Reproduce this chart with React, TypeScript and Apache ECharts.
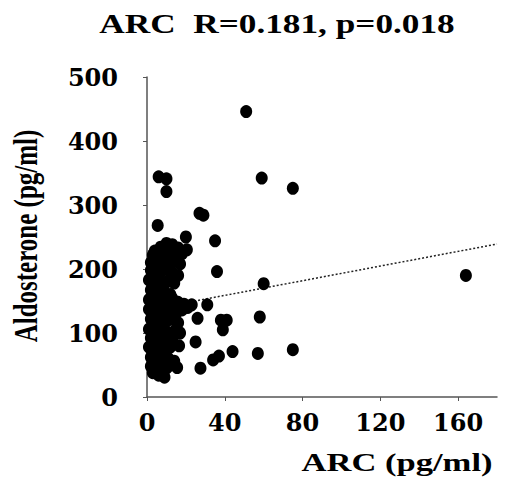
import React, { useEffect, useRef } from "react";
import * as echarts from "echarts";

const titleText = "ARC  R=0.181, p=0.018";
const xName = "ARC (pg/ml)";
const yName = "Aldosterone (pg/ml)";
const xTicks = [0, 40, 80, 120, 160];
const yTicks = [0, 100, 200, 300, 400, 500];

// isolated points [ARC, Aldosterone]
const outerPoints: number[][] = [
  [51, 446], [59, 342], [75, 326], [6, 344], [10, 341], [10, 321],
  [27, 287], [29, 284], [5.5, 268], [20, 250], [35, 244], [20.5, 230],
  [36, 196], [60, 177], [31, 144], [23, 144], [26, 123], [38, 120], [41, 120],
  [58, 125], [39, 105], [25, 86], [75, 74], [44, 71], [57, 68], [37, 64],
  [34, 58], [27.5, 45], [15.5, 46], [16.5, 80], [164, 190],
];

// dense cluster near the y axis
const clusterPoints: number[][] = [
  [7, 234], [10, 240], [13, 238], [16, 233], [4, 228],
  [3, 222], [6, 225], [9, 228], [12, 222], [14, 226], [18, 224],
  [2, 210], [5, 209], [8, 214], [11, 206], [15, 212], [17, 208],
  [2, 198], [4, 192], [7, 196], [10, 200], [13, 194], [16, 190],
  [1, 183], [3, 178], [6, 184], [9, 176], [11, 182], [14, 178],
  [2, 167], [4, 162], [7, 170], [9, 164], [12, 160],
  [1, 152], [3, 148], [5, 155], [8, 150], [11, 146], [13, 154], [16, 148], [19, 145],
  [1, 137], [3, 132], [6, 140], [9, 134], [12, 138], [15, 131], [18, 136], [21, 140],
  [2, 122], [4, 117], [7, 125], [10, 118], [13, 122], [16, 116],
  [1, 106], [3, 102], [6, 109], [9, 104], [12, 100], [15, 106], [17, 100],
  [2, 92], [5, 87], [8, 94], [10, 88], [13, 92],
  [1, 78], [4, 72], [7, 80], [10, 74], [12, 78],
  [2, 62], [5, 57], [8, 64], [11, 60], [14, 56],
  [2, 48], [4, 42], [7, 50], [10, 45], [12, 50],
  [6, 34], [9, 31], [3, 38],
];

// regression line end points
const trendLine: number[][] = [
  [2, 137],
  [180, 239],
];

export default function App() {
  const ref = useRef<HTMLDivElement>(null);
  useEffect(() => {
    if (!ref.current) return;
    const chart = echarts.init(ref.current, undefined, { renderer: "svg" });
    const tickFont = "DejaVu Serif";
    chart.setOption({
      animation: false,
      backgroundColor: "#fff",
      grid: { left: 147, right: 8, top: 77, bottom: 88, containLabel: false },
      xAxis: {
        type: "value",
        min: 0,
        max: 180,
        interval: 40,
        splitLine: { show: false },
        axisLine: { show: true, lineStyle: { color: "#555", width: 1.5 } },
        axisTick: { show: true, length: 4, lineStyle: { color: "#555" } },
        axisLabel: {
          showMaxLabel: false,
          margin: 13,
          color: "#000",
          fontFamily: tickFont,
          fontWeight: "bold",
          fontSize: 24,
          formatter: (v: number) => (xTicks.indexOf(v) >= 0 ? String(v) : ""),
        },
      },
      yAxis: {
        type: "value",
        min: 0,
        max: 500,
        interval: 100,
        splitLine: { show: false },
        axisLine: { show: true, lineStyle: { color: "#555", width: 1.5 } },
        axisTick: { show: true, length: 4, lineStyle: { color: "#555" } },
        axisLabel: {
          margin: 29,
          color: "#000",
          fontFamily: tickFont,
          fontWeight: "bold",
          fontSize: 24,
          formatter: (v: number) => (yTicks.indexOf(v) >= 0 ? String(v) : ""),
        },
      },
      graphic: [
        {
          type: "text",
          x: 277,
          y: 24,
          scaleX: 1.33,
          style: {
            text: titleText,
            font: "bold 26.5px 'Liberation Serif'",
            fill: "#000",
            textAlign: "center",
            textVerticalAlign: "middle",
          },
        },
        {
          type: "text",
          x: 397,
          y: 463,
          scaleX: 1.33,
          style: {
            text: xName,
            font: "bold 26px 'Liberation Serif'",
            fill: "#000",
            textAlign: "center",
            textVerticalAlign: "middle",
          },
        },
        {
          type: "text",
          x: 26,
          y: 236,
          rotation: Math.PI / 2,
          scaleY: 1.33,
          style: {
            text: yName,
            font: "bold 25px 'Liberation Serif'",
            fill: "#000",
            textAlign: "center",
            textVerticalAlign: "middle",
          },
        },
      ],
      series: [
        {
          type: "line",
          data: trendLine,
          symbol: "none",
          z: 1,
          lineStyle: { color: "#222", width: 1.5, type: [2, 2] },
        },
        {
          type: "scatter",
          data: outerPoints.concat(clusterPoints),
          symbol: "circle",
          symbolSize: [12, 13],
          z: 2,
          itemStyle: { color: "#000", opacity: 1 },
        },
      ],
    });
    return () => chart.dispose();
  }, []);
  return (
    <div
      ref={ref}
      style={{ position: "absolute", left: 0, top: 0, width: 505, height: 485 }}
    />
  );
}
